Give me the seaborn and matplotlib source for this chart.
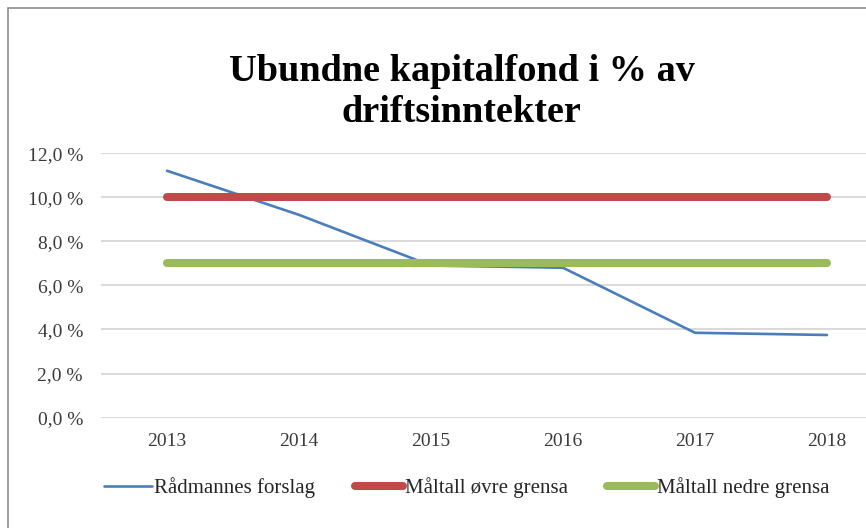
import pandas as pd
import matplotlib.pyplot as plt
import numpy as np
import seaborn as sns
from matplotlib.patches import Rectangle
from matplotlib.ticker import FuncFormatter

years = [2013, 2014, 2015, 2016, 2017, 2018]
forslag = [11.2, 9.2, 6.9, 6.8, 3.85, 3.75]
ovre = [10.0, 10.0, 10.0, 10.0, 10.0, 10.0]
nedre = [7.0, 7.0, 7.0, 7.0, 7.0, 7.0]
series_names = ['Rådmannes forslag', 'Måltall øvre grensa', 'Måltall nedre grensa']
y_ticks = [0, 2, 4, 6, 8, 10, 12]

data = pd.DataFrame({'År': years, series_names[0]: forslag,
                     series_names[1]: ovre, series_names[2]: nedre})

sns.set_style('white')
plt.rcParams['font.family'] = ['Liberation Serif', 'DejaVu Serif']

fig = plt.figure(figsize=(8.66, 5.28), dpi=100)
ax = fig.add_axes([101 / 866, 0.209, 792 / 866, 0.501])

# outer chart frame (cropped on the right and bottom)
fig.patches.append(Rectangle((8 / 866, -0.1), 1.2, (528 - 8) / 528 + 0.1,
                             transform=fig.transFigure, fill=False,
                             edgecolor='#8c8c8c', linewidth=1.2))

colors = ['#4a7ebb', '#be4b48', '#9bbb59']
widths = [1.9, 5.8, 5.8]
for name, c, w in zip(series_names, colors, widths):
    sns.lineplot(x='År', y=name, data=data, color=c, linewidth=w,
                 label=name, ax=ax, solid_capstyle='round')

ax.set_xlim(2012.5, 2018.5)
ax.set_ylim(0, 12)
ax.set_xticks(years)
ax.set_yticks(y_ticks)
ax.yaxis.set_major_formatter(FuncFormatter(lambda v, p: f'{v:.1f} %'.replace('.', ',')))
ax.grid(True, axis='y', color='#d9d9d9', linewidth=1.4)
ax.set_axisbelow(True)
for s in ax.spines.values():
    s.set_visible(False)
ax.tick_params(axis='both', length=0, labelsize=14, colors='#3a3a3a')
ax.tick_params(axis='y', pad=13)
ax.tick_params(axis='x', pad=11)
ax.set_xlabel('')
ax.set_ylabel('')

fig.text(0.533, 0.826, 'Ubundne kapitalfond i % av\ndriftsinntekter',
         ha='center', va='center', fontsize=27.5, fontweight='bold',
         linespacing=1.2, color='black')

ax.legend(loc='center', bbox_to_anchor=(467 / 866, 0.077),
          bbox_transform=fig.transFigure, ncol=3, frameon=False,
          fontsize=15, handlelength=2.3, handletextpad=0.1,
          columnspacing=1.9)

fig.savefig('out.png', dpi=100)
